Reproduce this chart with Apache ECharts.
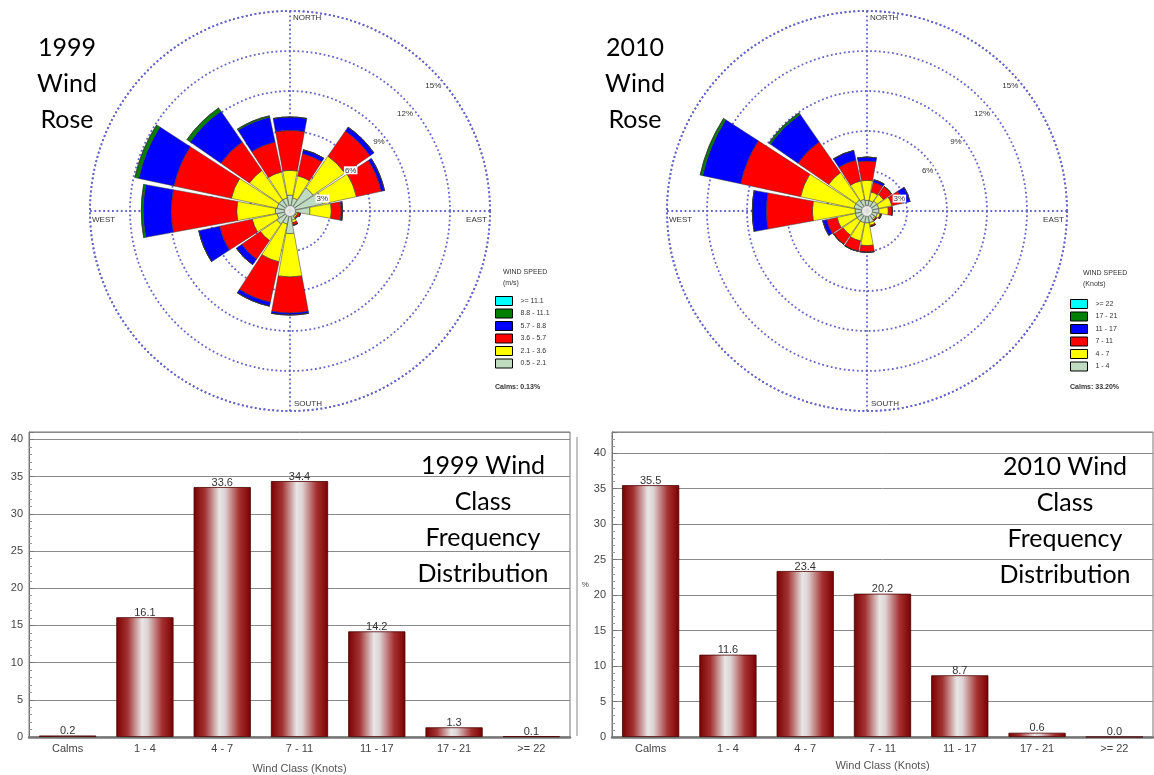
<!DOCTYPE html>
<html>
<head>
<meta charset="utf-8">
<script src="https://cdn.jsdelivr.net/npm/echarts@6.0.0/dist/echarts.min.js"></script>
<style>
html, body { margin: 0; padding: 0; background: #fff; }
#chart { width: 1154px; height: 775px; }
</style>
</head>
<body>
<div id="chart"></div>
<script>
// wind rose directions, clockwise from north
const directions = ['N', 'NNE', 'NE', 'ENE', 'E', 'ESE', 'SE', 'SSE', 'S', 'SSW', 'SW', 'WSW', 'W', 'WNW', 'NW', 'NNW'];

// 1999 rose, % per speed class (m/s), one array per class
const rose1999Names = ['0.5 - 2.1', '2.1 - 3.6', '3.6 - 5.7', '5.7 - 8.8', '8.8 - 11.1', '>= 11.1'];
const rose1999_c1 = [1.2, 1.0, 2.1, 2.5, 1.5, 0.5, 0.5, 0.7, 1.7, 1.0, 1.2, 1.0, 1.1, 1.0, 1.0, 1.0];
const rose1999_c2 = [1.85, 1.7, 2.9, 2.6, 1.6, 0.1, 0.1, 0.2, 3.25, 2.9, 1.5, 1.9, 2.9, 3.5, 2.7, 2.0];
const rose1999_c3 = [3.0, 1.7, 2.3, 1.9, 0.75, 0.2, 0.1, 0.2, 2.7, 3.1, 1.7, 2.5, 4.9, 4.4, 2.6, 2.3];
const rose1999_c4 = [1.0, 0.3, 0.35, 0.25, 0.1, 0, 0, 0, 0.15, 0.3, 0.5, 1.6, 2.1, 2.7, 2.8, 1.9];
const rose1999_c5 = [0, 0, 0, 0, 0, 0, 0, 0, 0, 0, 0, 0, 0.15, 0.3, 0.3, 0.1];
const rose1999_c6 = [0, 0, 0, 0, 0, 0, 0, 0, 0, 0, 0, 0, 0, 0, 0, 0];

// 2010 rose, % per speed class (knots)
const rose2010Names = ['1 - 4', '4 - 7', '7 - 11', '11 - 17', '17 - 21', '>= 22'];
const rose2010_c1 = [0.8, 0.8, 0.9, 0.9, 0.9, 0.8, 0.7, 0.9, 0.9, 0.9, 0.9, 0.9, 0.9, 1.0, 1.0, 0.9];
const rose2010_c2 = [1.5, 0.65, 0.6, 1.0, 0.7, 0.2, 0.1, 0.2, 1.7, 1.4, 1.3, 1.4, 3.2, 4.1, 2.5, 1.4];
const rose2010_c3 = [1.45, 0.75, 0.75, 0.85, 0.3, 0.1, 0.1, 0.1, 0.5, 0.8, 0.85, 0.8, 3.45, 4.6, 2.8, 1.6];
const rose2010_c4 = [0.3, 0.2, 0, 0.55, 0, 0, 0, 0, 0, 0, 0, 0.3, 1.05, 2.9, 2.5, 0.75];
const rose2010_c5 = [0, 0, 0, 0, 0, 0, 0, 0, 0, 0, 0, 0, 0, 0.2, 0.15, 0];
const rose2010_c6 = [0, 0, 0, 0, 0, 0, 0, 0, 0, 0, 0, 0, 0, 0, 0, 0];

const ringTicks = [3, 6, 9, 12, 15];
const calms1999 = 'Calms: 0.13%';
const calms2010 = 'Calms: 33.20%';

// wind class frequency bars
const windClasses = ['Calms', '1 - 4', '4 - 7', '7 - 11', '11 - 17', '17 - 21', '>= 22'];
const freq1999 = [0.2, 16.1, 33.6, 34.4, 14.2, 1.3, 0.1];
const freq2010 = [35.5, 11.6, 23.4, 20.2, 8.7, 0.6, 0.0];

const speedColors = ['#c0dcc0', '#ffff00', '#ff0000', '#0000ff', '#008000', '#00ffff'];
const dotted = { color: '#6464c8', width: 1.8, type: [1.8, 2.6] };
const smallFont = 'Liberation Sans, Arial, sans-serif';
const R = 200;
const roses = [
  { center: [290, 211], classes: [rose1999_c1, rose1999_c2, rose1999_c3, rose1999_c4, rose1999_c5, rose1999_c6], names: rose1999Names },
  { center: [867, 211], classes: [rose2010_c1, rose2010_c2, rose2010_c3, rose2010_c4, rose2010_c5, rose2010_c6], names: rose2010Names }
];

const chart = echarts.init(document.getElementById('chart'), null, { renderer: 'canvas' });

const polar = [], angleAxis = [], radiusAxis = [], series = [], graphic = [];
roses.forEach(function (rose, k) {
  const p = k * 3;
  const cx = rose.center[0], cy = rose.center[1];
  polar.push({ center: rose.center, radius: R });
  polar.push({ center: rose.center, radius: R });
  // % labels sit on a diagonal just below the rings
  polar.push({ center: [cx + 13, cy + 18], radius: R });
  // bars
  angleAxis.push({ polarIndex: p, type: 'category', data: directions, startAngle: 101.25, clockwise: true,
    axisLine: { show: false }, axisTick: { show: false }, axisLabel: { show: false }, splitLine: { show: false } });
  radiusAxis.push({ polarIndex: p, type: 'value', min: 0, max: 15, show: false });
  // dotted rings and cross
  angleAxis.push({ polarIndex: p + 1, type: 'value', min: 0, max: 360, interval: 90, startAngle: 90, clockwise: true,
    axisLine: { show: true, lineStyle: dotted }, axisTick: { show: false }, axisLabel: { show: false },
    splitLine: { show: true, lineStyle: dotted } });
  radiusAxis.push({ polarIndex: p + 1, type: 'value', min: 0, max: 15, interval: 3,
    axisLine: { show: false }, axisTick: { show: false }, axisLabel: { show: false },
    splitLine: { show: true, lineStyle: dotted } });
  // ring % labels
  angleAxis.push({ polarIndex: p + 2, type: 'value', min: 0, max: 360, startAngle: 45, show: false });
  radiusAxis.push({ polarIndex: p + 2, type: 'value', min: 0, max: 15, interval: 3, z: 10,
    axisLine: { show: false }, axisTick: { show: false }, splitLine: { show: false },
    axisLabel: { formatter: function (v) { return ringTicks.indexOf(v) >= 0 ? v + '%' : ''; },
      fontSize: 8, fontFamily: smallFont, color: '#333', backgroundColor: '#fff', padding: [0, 1], margin: 3 } });

  rose.classes.forEach(function (vals, i) {
    series.push({ type: 'bar', name: rose.names[i], coordinateSystem: 'polar', polarIndex: p,
      stack: 'rose' + k, data: vals, barCategoryGap: '8%', silent: true,
      itemStyle: { color: speedColors[i], borderColor: '#333', borderWidth: 0.5 } });
  });
  series.push({ type: 'scatter', coordinateSystem: 'polar', polarIndex: p + 1, data: [[0, 0]],
    symbolSize: 11, silent: true, z: 6, itemStyle: { color: '#fff', borderColor: '#777', borderWidth: 1 } });

  const dirText = function (text, x, y, align) {
    graphic.push({ type: 'text', x: x, y: y, z: 20, silent: true,
      style: { text: text, font: '8px ' + smallFont, fill: '#333', textAlign: align, textVerticalAlign: 'middle' } });
  };
  dirText('NORTH', cx + 3, cy - R + 7, 'left');
  dirText('SOUTH', cx + 4, cy + R - 7, 'left');
  dirText('EAST', cx + R - 3, cy + 9, 'right');
  dirText('WEST', cx - R + 2, cy + 9, 'left');
});

const legendTop = [296, 299];
const legendLeft = [495, 1070];
const legend = roses.map(function (rose, k) {
  return { data: rose.names.slice().reverse(), orient: 'vertical', left: legendLeft[k], top: legendTop[k],
    padding: 0, itemWidth: 17, itemHeight: 9, itemGap: 2.5, icon: 'rect', selectedMode: false,
    itemStyle: { borderColor: '#000', borderWidth: 1 },
    textStyle: { fontSize: 7, fontFamily: smallFont, color: '#333', lineHeight: 9, padding: [0, 0, 0, 3] } };
});

const headerText = function (text, x, y, bold) {
  graphic.push({ type: 'text', x: x, y: y, z: 20, silent: true,
    style: { text: text, font: (bold ? 'bold ' : '') + '7px ' + smallFont, fill: '#333', textVerticalAlign: 'middle', lineHeight: 11 } });
};
headerText('WIND SPEED\n(m/s)', 503, 278);
headerText('WIND SPEED\n(Knots)', 1083, 279);
headerText(calms1999, 495, 387, true);
headerText(calms2010, 1070, 387, true);

const bigText = function (text, x, y, lh) {
  graphic.push({ type: 'text', x: x, y: y, z: 20, silent: true,
    style: { text: text, font: '25px Lato', fill: '#000', textAlign: 'center', textVerticalAlign: 'top', lineHeight: lh } });
};
bigText('1999\nWind\nRose', 67, 30, 36);
bigText('2010\nWind\nRose', 635, 30, 36);
bigText('1999 Wind\nClass\nFrequency\nDistribution', 483, 448, 36);
bigText('2010 Wind\nClass\nFrequency\nDistribution', 1065, 449, 36);

// outer frame edge of the right histogram
graphic.push({ type: 'line', silent: true, shape: { x1: 577, y1: 437, x2: 577, y2: 736 }, style: { stroke: '#888', lineWidth: 1 } });

const barGradient = new echarts.graphic.LinearGradient(0, 0, 1, 0, [
  { offset: 0, color: '#7a0000' },
  { offset: 0.2, color: '#a33333' },
  { offset: 0.45, color: '#e8e6e6' },
  { offset: 0.55, color: '#ddd2d2' },
  { offset: 0.8, color: '#a53030' },
  { offset: 1, color: '#7a0000' }
]);

const grids = [
  { left: 29, top: 432, width: 541, height: 309, max: 41, data: freq1999, yName: '' },
  { left: 612, top: 432, width: 541, height: 305, max: 43, data: freq2010, yName: '%' }
];
const grid = [], xAxis = [], yAxis = [];
grids.forEach(function (g, k) {
  grid.push({ left: g.left, top: g.top, width: g.width, height: g.height, show: true, borderColor: '#777', borderWidth: 1, backgroundColor: '#fff' });
  xAxis.push({ gridIndex: k, type: 'category', data: windClasses,
    axisLine: { lineStyle: { color: '#777', width: 2.5 } },
    axisTick: { alignWithLabel: true, length: 6, lineStyle: { color: '#555' } },
    axisLabel: { fontSize: 11, fontFamily: smallFont, color: '#444', margin: 6, interval: 0 },
    name: 'Wind Class (Knots)', nameLocation: 'middle', nameGap: k ? 23 : 26,
    nameTextStyle: { fontSize: 11, fontFamily: smallFont, color: '#555' } });
  yAxis.push({ gridIndex: k, type: 'value', min: 0, max: g.max, interval: 5,
    name: g.yName, nameLocation: 'middle', nameRotate: 0, nameGap: 22,
    nameTextStyle: { fontSize: 8, fontFamily: smallFont, color: '#444' },
    axisLine: { show: true, lineStyle: { color: '#777' } },
    axisTick: { show: true, inside: true, length: 5, lineStyle: { color: '#777' } },
    minorTick: { show: true, splitNumber: 5, length: 3, lineStyle: { color: '#999' } },
    axisLabel: { fontSize: 11, fontFamily: smallFont, color: '#444', margin: 6, showMaxLabel: false },
    splitLine: { show: true, lineStyle: { color: '#8a8a8a', width: 1 } } });
  series.push({ type: 'bar', name: k ? '2010' : '1999', xAxisIndex: k, yAxisIndex: k, data: g.data,
    barWidth: '74%', silent: true,
    itemStyle: { color: barGradient, borderColor: '#4a0000', borderWidth: 0.8 },
    label: { show: true, position: 'top', distance: -1, fontSize: 11, fontFamily: smallFont, color: '#333',
      formatter: function (p) { return p.value.toFixed(1); } } });
});

chart.setOption({
  animation: false,
  backgroundColor: '#fff',
  polar: polar,
  angleAxis: angleAxis,
  radiusAxis: radiusAxis,
  legend: legend,
  grid: grid,
  xAxis: xAxis,
  yAxis: yAxis,
  graphic: { elements: graphic },
  series: series
});
</script>
</body>
</html>
